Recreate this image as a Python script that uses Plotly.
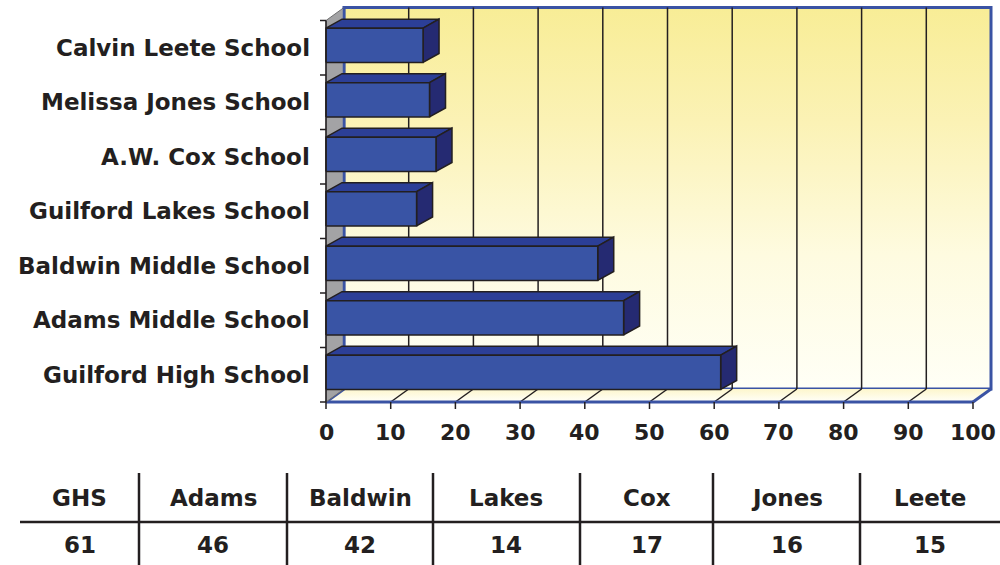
import plotly.graph_objects as go

# ---------------- data ----------------
schools = ["Guilford High School", "Adams Middle School", "Baldwin Middle School",
           "Guilford Lakes School", "A.W. Cox School", "Melissa Jones School",
           "Calvin Leete School"]
short_names = ["GHS", "Adams", "Baldwin", "Lakes", "Cox", "Jones", "Leete"]
values = [61, 46, 42, 14, 17, 16, 15]
x_ticks = [0, 10, 20, 30, 40, 50, 60, 70, 80, 90, 100]

# ---------------- geometry (pixel -> data scale) ----------------
W, H = 1000, 565
X0_PX, X100_PX = 326, 973
PX_PER_X = (X100_PX - X0_PX) / 100.0
FLOOR_PX = 402
BAND_PX = 54.5
xmin = -X0_PX / PX_PER_X
xmax = xmin + W / PX_PER_X
ymax = FLOOR_PX / BAND_PX
ymin = ymax - H / BAND_PX

DX = 18 / PX_PER_X      # depth offset of walls
DY = 13 / BAND_PX
BDX = 16 / PX_PER_X     # depth offset of bars
BDY = 9 / BAND_PX
BAR_LO, BAR_HI = 0.23, 0.86
N = len(schools)
XMAX = x_ticks[-1]

BLUE = "#3A53A4"
INK = "#231F20"
FONT = "DejaVu Sans"

fig = go.Figure()

def poly(xs, ys, fill=None, line_color=None, width=1.0, grad=None):
    kw = dict(x=list(xs) + [xs[0]], y=list(ys) + [ys[0]], mode="lines",
              hoverinfo="skip", showlegend=False)
    if fill is not None or grad is not None:
        kw["fill"] = "toself"
        if grad is not None:
            kw["fillgradient"] = grad
        else:
            kw["fillcolor"] = fill
    if line_color is None:
        kw["line"] = dict(width=0, color="rgba(0,0,0,0)")
    else:
        kw["line"] = dict(width=width, color=line_color)
    fig.add_trace(go.Scatter(**kw))

def segs(pairs, color, width):
    xs, ys = [], []
    for (x1, y1), (x2, y2) in pairs:
        xs += [x1, x2, None]
        ys += [y1, y2, None]
    fig.add_trace(go.Scatter(x=xs, y=ys, mode="lines", hoverinfo="skip",
                             showlegend=False, line=dict(color=color, width=width)))

# back wall with gradient
poly([DX, XMAX + DX, XMAX + DX, DX], [DY, DY, N + DY, N + DY],
     grad=dict(type="vertical",
               colorscale=[[0, "#FFFFF6"], [0.35, "#FEFBE0"], [0.7, "#FBF2B5"], [1, "#F8ED96"]]),
     line_color=BLUE, width=3)

# back wall gridlines
segs([((t + DX, DY), (t + DX, N + DY)) for t in x_ticks[1:-1]], INK, 1.5)

# floor
poly([0, XMAX, XMAX + DX, DX], [0, 0, DY, DY],
     grad=dict(type="vertical", colorscale=[[0, "#FFFFFA"], [1, "#FDF6CC"]]))
segs([((t, 0), (t + DX, DY)) for t in x_ticks[1:-1]], INK, 1.5)
segs([((0, 0), (DX, DY)), ((XMAX, 0), (XMAX + DX, DY)), ((0, 0), (XMAX, 0))], BLUE, 3)

# left side wall (gray)
poly([0, DX, DX, 0], [0, DY, N + DY, N], fill="#A3A3A5", line_color="#6F6F70", width=1)
segs([((DX, DY), (DX, N + DY))], BLUE, 2.5)

# bars (3D boxes)
for i, v in enumerate(values):
    b, t = i + BAR_LO, i + BAR_HI
    poly([0, BDX, v + BDX, v], [t, t + BDY, t + BDY, t], fill="#2C3F97", line_color=INK, width=1.5)
    poly([v, v + BDX, v + BDX, v], [b, b + BDY, t + BDY, t], fill="#252A72", line_color=INK, width=1.5)
    poly([0, v, v, 0], [b, b, t, t], fill="#3954A5", line_color=INK, width=1.5)

# axes lines & ticks
tick_x = 6 / PX_PER_X
tick_y = 7 / BAND_PX
segs([((0, 0), (0, N))] + [((-tick_x, k), (0, k)) for k in range(N + 1)], INK, 1.5)
segs([((t, 0), (t, -tick_y)) for t in x_ticks], INK, 1.5)

# category labels
for i, name in enumerate(schools):
    fig.add_annotation(x=-14 / PX_PER_X, y=i + 0.5, xref="x", yref="y", text=name,
                       showarrow=False, xanchor="right", yanchor="middle",
                       font=dict(family=FONT, size=23, color=INK, weight="bold"))
# x tick labels
for t in x_ticks:
    fig.add_annotation(x=t, y=-30 / BAND_PX, xref="x", yref="y", text=str(t),
                       showarrow=False, xanchor="center", yanchor="middle",
                       font=dict(family=FONT, size=22, color=INK, weight="bold"))

# ---------------- data table ----------------
col_edges = [20, 139, 287, 433, 580, 713, 860, 1000]
hdr_y, val_y, rule_y, top_y = 498, 545, 522, 473
def px_x(p): return p / W
def px_y(p): return 1 - p / H
for j, (nm, v) in enumerate(zip(short_names, values)):
    cx = (col_edges[j] + col_edges[j + 1]) / 2
    fig.add_annotation(x=px_x(cx), y=px_y(hdr_y), xref="paper", yref="paper", text=nm,
                       showarrow=False, xanchor="center", yanchor="middle",
                       font=dict(family=FONT, size=23, color=INK, weight="bold"))
    fig.add_annotation(x=px_x(cx), y=px_y(val_y), xref="paper", yref="paper", text=str(v),
                       showarrow=False, xanchor="center", yanchor="middle",
                       font=dict(family=FONT, size=23, color=INK, weight="bold"))
fig.add_shape(type="line", xref="paper", yref="paper", x0=px_x(col_edges[0]), x1=1,
              y0=px_y(rule_y), y1=px_y(rule_y), line=dict(color=INK, width=2.5))
for e in col_edges[1:-1]:
    fig.add_shape(type="line", xref="paper", yref="paper", x0=px_x(e), x1=px_x(e),
                  y0=px_y(top_y), y1=0, line=dict(color=INK, width=2.5))

fig.update_layout(
    width=W, height=H, margin=dict(l=0, r=0, t=0, b=0),
    paper_bgcolor="white", plot_bgcolor="white",
    xaxis=dict(range=[xmin, xmax], visible=False, fixedrange=True),
    yaxis=dict(range=[ymin, ymax], visible=False, fixedrange=True),
    showlegend=False, hovermode=False,
)
fig.write_html("out.html", config={"displayModeBar": False},
               post_script="document.body.style.margin='0';document.body.style.overflow='hidden';")
